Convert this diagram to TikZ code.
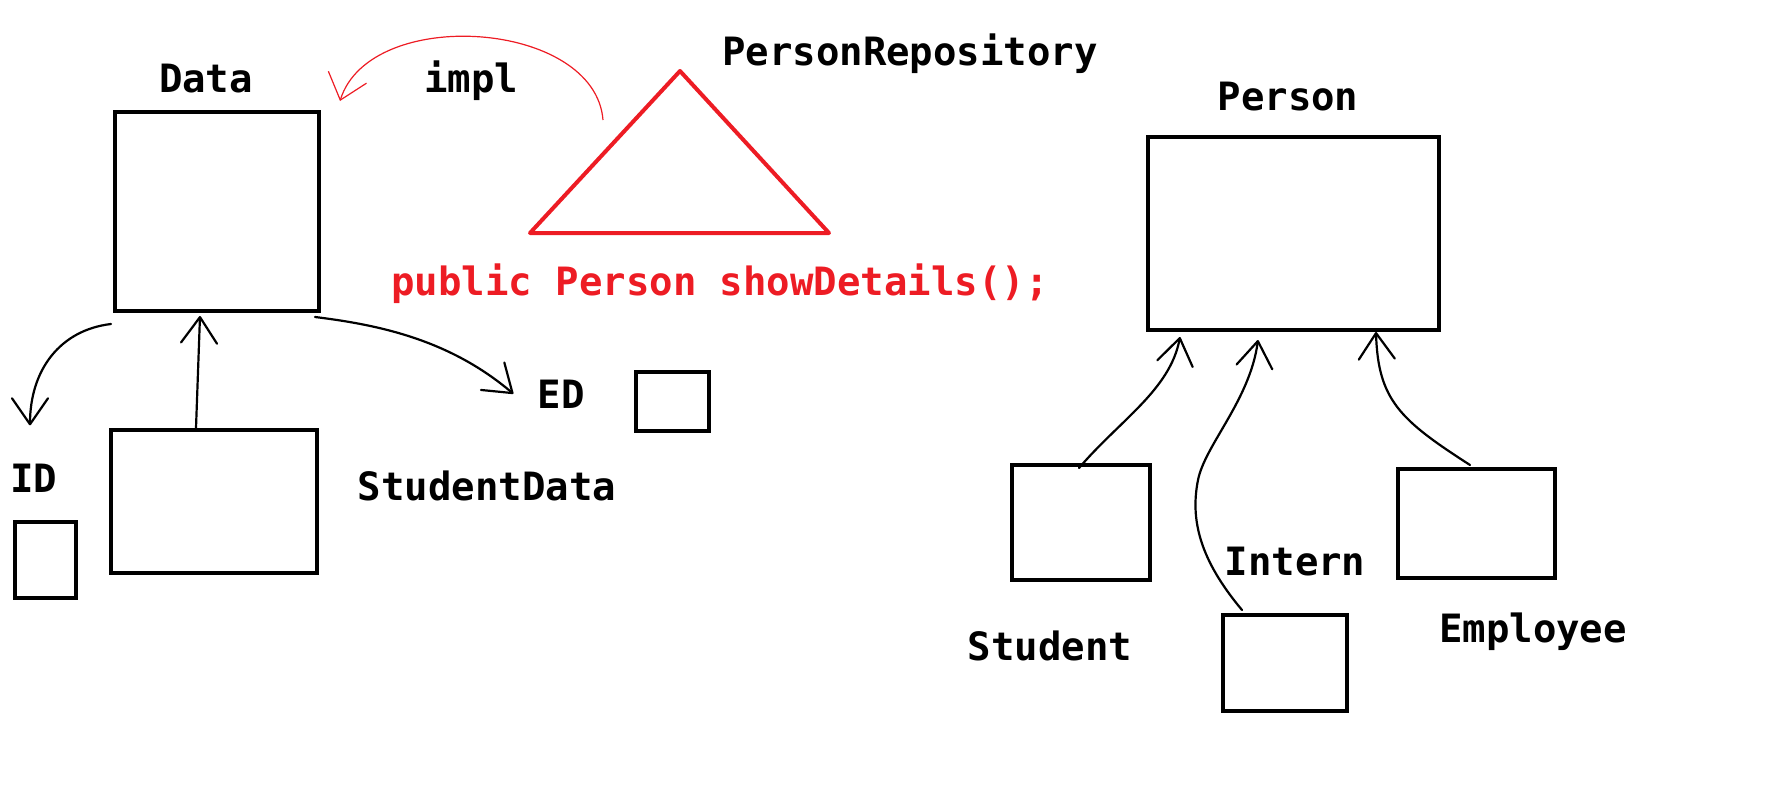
\documentclass[tikz,border=0pt]{standalone}
\usepackage{fontspec}
\setmainfont{DejaVu Sans Mono}
\usepackage{tikz}
\usetikzlibrary{arrows.meta,positioning,calc}
\definecolor{paintred}{RGB}{237,28,36}

\begin{document}
\begin{tikzpicture}[x=1pt,y=-1pt,
  box/.style 2 args={draw,line width=4pt,inner sep=0pt,minimum width=#1,minimum height=#2},
  lbl/.style={inner sep=0pt,anchor=base,font=\fontsize{39}{47}\selectfont\bfseries},
  arr/.style={line width=2.2pt,line cap=round,-{Straight Barb[length=26pt,width=36pt,round]}}]
  \useasboundingbox (0,0) rectangle (1767,795);
  % Data side
  \node[box={204pt}{199pt}] (data) at (217,211.5) {};
  \node[box={206pt}{143pt}] (studentdata) at (214,501.5) {};
  \node[box={61pt}{76pt}] (id) at (45.5,560) {};
  \node[box={73pt}{59pt}] (ed) at (672.5,401.5) {};
  \node[lbl] (datalbl) at (206,92) {Data};
  \node[lbl] (impllbl) at (471,92) {impl};
  \node[lbl] (edlbl) at (561,408) {ED};
  \node[lbl] (idlbl) at (34,492) {ID};
  \node[lbl] (studentdatalbl) at (487,500) {StudentData};
  \draw[arr] ($(studentdata.north)+(-18,0)$) -- ($(data.south)+(-17,3)$);
  \draw[arr] ($(data.south west)+(-2,11)$) .. controls (60,330) and (30,370) .. ($(idlbl.north)+(-4,-38)$);
  \draw[arr] ($(data.south east)+(-6,4)$) .. controls (380,325) and (450,340) .. ($(edlbl.west)+(-24,0)$);
  % repository (red)
  \coordinate (tritop) at (680,71);
  \coordinate (trileft) at (530,233);
  \coordinate (triright) at (829,233);
  \draw[paintred,line width=4pt,line join=round] (trileft) -- (tritop) -- (triright) -- cycle;
  \node[lbl] (repolbl) at (910,65) {PersonRepository};
  \node[lbl,text=paintred] (methodlbl) at (720,295) {public Person showDetails();};
  \coordinate (implstart) at (603,120);
  \draw[paintred,line width=1.2pt,-{Straight Barb[length=24pt,width=40pt]}] (implstart) .. controls (595,20) and (370,5) .. ($(data.north east)+(19,-9)$);
  % Person side
  \node[box={291pt}{193pt}] (person) at (1293.5,233.5) {};
  \node[box={138pt}{115pt}] (student) at (1081,522.5) {};
  \node[box={124pt}{96pt}] (intern) at (1285,663) {};
  \node[box={157pt}{109pt}] (employee) at (1476.5,523.5) {};
  \node[lbl] (personlbl) at (1288,110) {Person};
  \node[lbl] (studentlbl) at (1050,660) {Student};
  \node[lbl] (internlbl) at (1295,575) {Intern};
  \node[lbl] (employeelbl) at (1533,642) {Employee};
  \draw[arr] ($(student.north)+(-2,5)$) .. controls (1120,420) and (1170,390) .. ($(person.south west)+(34,5)$);
  \draw[arr] ($(intern.north)+(-43,-3)$) .. controls (1200,560) and (1190,520) .. (1198,480) .. controls (1205,445) and (1250,400) .. ($(person.south)+(-35.5,8)$);
  \draw[arr] ($(employee.north)+(-6.5,-2)$) .. controls (1400,420) and (1378,400) .. ($(person.south east)+(-65,0)$);
\end{tikzpicture}
\end{document}
